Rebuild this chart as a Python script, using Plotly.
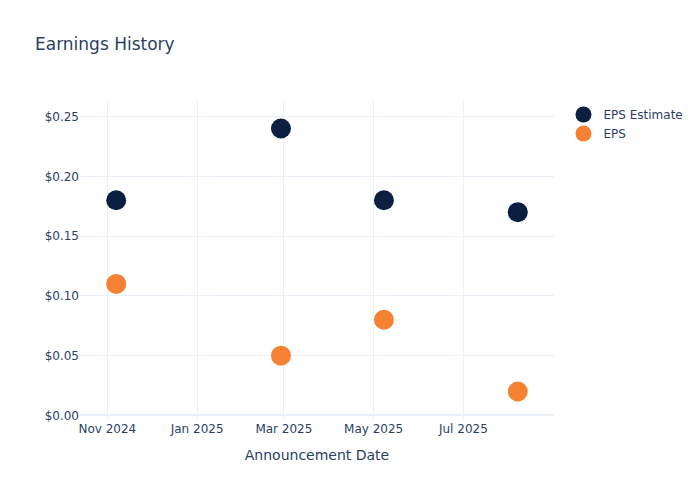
import plotly.graph_objects as go

dates = ["2024-11-07", "2025-02-27", "2025-05-08", "2025-08-07"]
eps_estimate = [0.18, 0.24, 0.18, 0.17]
eps_actual = [0.11, 0.05, 0.08, 0.02]

fig = go.Figure()
fig.add_trace(go.Scatter(x=dates, y=eps_estimate, mode="markers", name="EPS Estimate",
                         marker=dict(color="#0b1f40", size=20)))
fig.add_trace(go.Scatter(x=dates, y=eps_actual, mode="markers", name="EPS",
                         marker=dict(color="#f58233", size=20)))

fig.update_layout(
    template="plotly_white",
    width=700, height=500,
    font=dict(family="DejaVu Sans"),
    title=dict(text="Earnings History", x=0.05),
    xaxis=dict(title="Announcement Date", tickformat="%b %Y", dtick="M2"),
    yaxis=dict(tickprefix="$", tickformat=".2f"),
)
fig.write_html("out.html", config={"displayModeBar": False},
               post_script="document.body.style.margin='0';")
